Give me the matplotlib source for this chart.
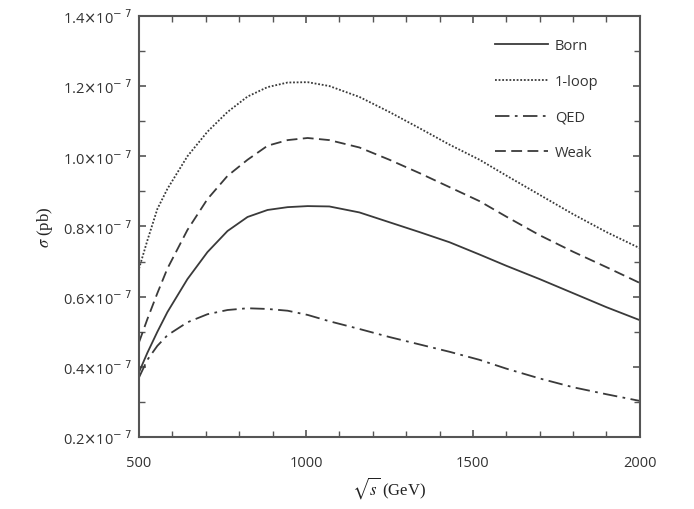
import numpy as np
import matplotlib
matplotlib.use("Agg")
import matplotlib.pyplot as plt
from matplotlib.ticker import MultipleLocator, FuncFormatter

# sqrt(s) in GeV
energy = [500, 525, 555, 585, 645, 705, 765, 825, 885, 945, 1005, 1070, 1160, 1250,
          1340, 1430, 1520, 1600, 1700, 1800, 1900, 2000]

# cross sections in units of 1e-7 pb
born = [0.385, 0.44, 0.50, 0.556, 0.65, 0.727, 0.787, 0.827, 0.847, 0.855, 0.858, 0.857,
        0.84, 0.812, 0.784, 0.755, 0.72, 0.688, 0.65, 0.61, 0.57, 0.533]
one_loop = [0.68, 0.76, 0.85, 0.907, 1.0, 1.07, 1.126, 1.17, 1.197, 1.21, 1.211, 1.2,
            1.169, 1.126, 1.08, 1.033, 0.99, 0.945, 0.89, 0.835, 0.784, 0.738]
qed = [0.37, 0.42, 0.46, 0.49, 0.527, 0.55, 0.562, 0.567, 0.565, 0.56, 0.548, 0.53,
       0.508, 0.485, 0.464, 0.443, 0.42, 0.395, 0.367, 0.342, 0.322, 0.303]
weak = [0.47, 0.536, 0.61, 0.68, 0.79, 0.878, 0.944, 0.99, 1.03, 1.046, 1.052, 1.046,
        1.025, 0.99, 0.952, 0.912, 0.872, 0.828, 0.775, 0.728, 0.684, 0.639]

col = "#3a3a3a"

fig = plt.figure(figsize=(6.94, 5.10), dpi=100)
ax = fig.add_axes([0.2003, 0.141, 0.7217, 0.826])

ax.plot(energy, born, color=col, lw=1.3, ls="-", label="Born")
ax.plot(energy, one_loop, color=col, lw=1.3, ls=(0, (1, 1)), label="1-loop")
ax.plot(energy, qed, color=col, lw=1.3, ls=(0, (8, 3, 1.5, 3)), label="QED")
ax.plot(energy, weak, color=col, lw=1.3, ls=(0, (6, 3)), label="Weak")

ax.set_xlim(500, 2000)
ax.set_ylim(0.2, 1.4)
ax.xaxis.set_major_locator(MultipleLocator(500))
ax.xaxis.set_minor_locator(MultipleLocator(100))
ax.yaxis.set_major_locator(MultipleLocator(0.2))
ax.yaxis.set_minor_locator(MultipleLocator(0.1))
ax.yaxis.set_major_formatter(FuncFormatter(lambda v, p: "%.1f$\\times$10$^{-\\ 7}$" % v))

ax.tick_params(which="both", direction="in", top=True, right=True, color="#555555",
               labelsize=10.5, labelcolor="#333333")
ax.tick_params(which="major", length=5, width=1.2)
ax.tick_params(axis="x", which="major", pad=13)
ax.tick_params(axis="y", which="major", pad=5)
ax.tick_params(which="minor", length=4, width=1.0)
for s in ax.spines.values():
    s.set_color("#555555")
    s.set_linewidth(1.5)

for t in ax.get_xticklabels() + ax.get_yticklabels():
    t.set_fontfamily("Open Sans")

ax.set_xlabel(r"$\sqrt{s}$ (GeV)", family="Liberation Serif", math_fontfamily="stix",
              fontsize=12, color="#222222", labelpad=3)
ax.set_ylabel(r"$\sigma$ (pb)", family="Liberation Serif", math_fontfamily="stix",
              fontsize=12, color="#222222", labelpad=6)

leg = ax.legend(loc="upper right", bbox_to_anchor=(0.944, 0.978), frameon=False,
                handlelength=3.6, handletextpad=0.5, labelspacing=1.42,
                prop={"family": "Open Sans", "size": 10.5})
for t in leg.get_texts():
    t.set_color("#333333")

fig.savefig("out.png", dpi=100)
